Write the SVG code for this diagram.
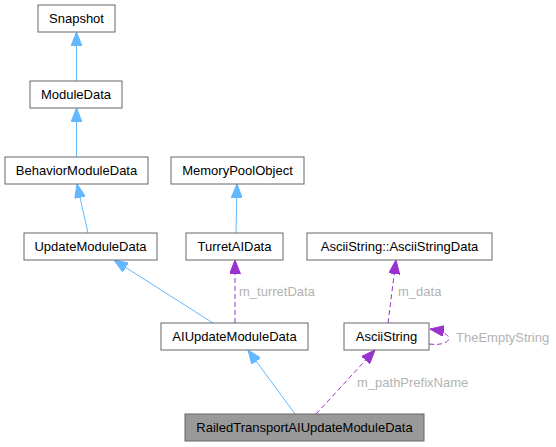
<svg xmlns="http://www.w3.org/2000/svg" width="556" height="447" viewBox="0 0 556 447">
<style>
.node rect{fill:#ffffff;stroke:#666666;stroke-width:1}
.node.root rect{fill:#999999}
.node text{font-family:"Liberation Sans",Arial,sans-serif;font-size:13px;fill:#000000;text-anchor:middle}
.inh{fill:none;stroke:#63b8ff;stroke-width:1}
.use{fill:none;stroke:#9a32cd;stroke-width:1;stroke-dasharray:5,3}
.lbl{font-family:"Liberation Sans",Arial,sans-serif;font-size:13px;fill:#b3b3b3}
</style>
<defs>
<marker id="ab" viewBox="0 0 14 11" refX="14" refY="5.5" markerWidth="14" markerHeight="11" markerUnits="userSpaceOnUse" orient="auto">
<path d="M0,0 L14,5.5 L0,11 z" fill="#63b8ff" stroke="#63b8ff"/>
</marker>
<marker id="ap" viewBox="0 0 14 11" refX="14" refY="5.5" markerWidth="14" markerHeight="11" markerUnits="userSpaceOnUse" orient="auto">
<path d="M0,0 L14,5.5 L0,11 z" fill="#9a32cd" stroke="#9a32cd"/>
</marker>
</defs>
<rect width="556" height="447" fill="#ffffff"/>
<g id="edges">
<line class="inh" x1="76.5" y1="81" x2="76.5" y2="32" marker-end="url(#ab)"/>
<line class="inh" x1="76.5" y1="157" x2="76.5" y2="108" marker-end="url(#ab)"/>
<line class="inh" x1="88" y1="233" x2="77" y2="184" marker-end="url(#ab)"/>
<line class="inh" x1="236" y1="233" x2="237" y2="184" marker-end="url(#ab)"/>
<line class="inh" x1="213" y1="323" x2="114" y2="260" marker-end="url(#ab)"/>
<line class="use" x1="235" y1="323" x2="235" y2="260" marker-end="url(#ap)"/>
<line class="use" x1="388" y1="323" x2="396" y2="260" marker-end="url(#ap)"/>
<line class="inh" x1="295" y1="414" x2="248" y2="350" marker-end="url(#ab)"/>
<line class="use" x1="316" y1="414" x2="375" y2="350" marker-end="url(#ap)"/>
<path class="use" d="M429,344 C452,347 458,333 430,329" marker-end="url(#ap)"/>
<text class="lbl" x="239" y="296">m_turretData</text>
<text class="lbl" x="398" y="296">m_data</text>
<text class="lbl" x="357" y="387">m_pathPrefixName</text>
<text class="lbl" x="456" y="342">TheEmptyString</text>
</g>
<g id="Snapshot" class="node"><rect x="38" y="5" width="77" height="27"/><text x="76.5" y="23">Snapshot</text></g>
<g id="ModuleData" class="node"><rect x="30" y="81" width="92" height="27"/><text x="76" y="99">ModuleData</text></g>
<g id="BehaviorModuleData" class="node"><rect x="5" y="157" width="143" height="27"/><text x="76.5" y="175">BehaviorModuleData</text></g>
<g id="MemoryPoolObject" class="node"><rect x="171" y="157" width="133" height="27"/><text x="237.5" y="175">MemoryPoolObject</text></g>
<g id="UpdateModuleData" class="node"><rect x="24" y="233" width="133" height="27"/><text x="90.5" y="251">UpdateModuleData</text></g>
<g id="TurretAIData" class="node"><rect x="186" y="233" width="97" height="27"/><text x="234.5" y="251">TurretAIData</text></g>
<g id="AsciiStringData" class="node"><rect x="307" y="233" width="185" height="27"/><text x="399.5" y="251">AsciiString::AsciiStringData</text></g>
<g id="AIUpdateModuleData" class="node"><rect x="161" y="323" width="147" height="27"/><text x="234.5" y="341">AIUpdateModuleData</text></g>
<g id="AsciiString" class="node"><rect x="344" y="323" width="85" height="27"/><text x="386.5" y="341">AsciiString</text></g>
<g id="RailedTransportAIUpdateModuleData" class="node root"><rect x="185" y="414" width="239" height="27"/><text x="304.5" y="432">RailedTransportAIUpdateModuleData</text></g>
</svg>
